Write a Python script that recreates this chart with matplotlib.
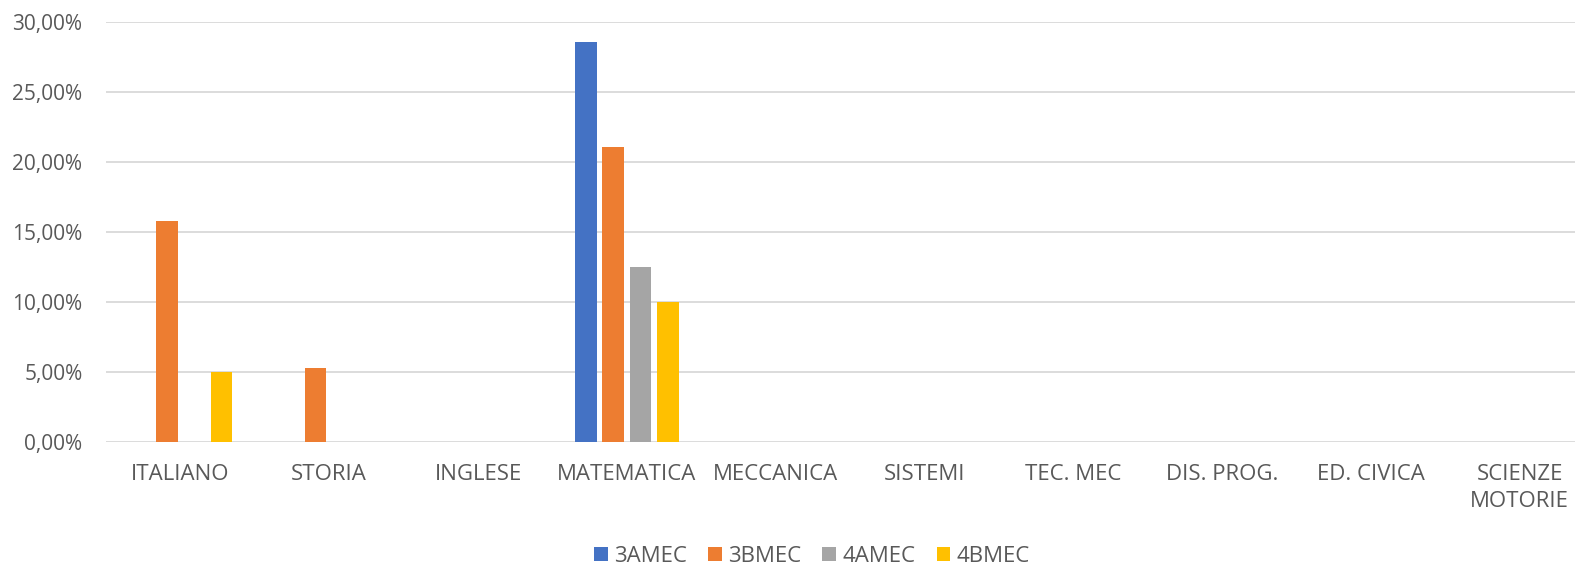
import matplotlib.pyplot as plt
import numpy as np
from matplotlib.ticker import FuncFormatter

materie = ["ITALIANO", "STORIA", "INGLESE", "MATEMATICA", "MECCANICA", "SISTEMI",
           "TEC. MEC", "DIS. PROG.", "ED. CIVICA", "SCIENZE\nMOTORIE"]
classi = ["3AMEC", "3BMEC", "4AMEC", "4BMEC"]
v_3amec = [0, 0, 0, 0.2857, 0, 0, 0, 0, 0, 0]
v_3bmec = [0.1579, 0.0526, 0, 0.2105, 0, 0, 0, 0, 0, 0]
v_4amec = [0, 0, 0, 0.125, 0, 0, 0, 0, 0, 0]
v_4bmec = [0.05, 0, 0, 0.10, 0, 0, 0, 0, 0, 0]
colori = ['#4472c4', '#ed7d31', '#a5a5a5', '#ffc000']

plt.rcParams['font.family'] = ['Open Sans', 'DejaVu Sans']
testo = '#595959'

fig = plt.figure(figsize=(15.75, 5.65), dpi=100)
# l'area del grafico sborda a destra come nell'originale (ritagliato)
ax = fig.add_axes([106/1575, 1-441.7/565, (1594-106)/1575, (441.7-22)/565])

x = np.arange(len(materie))
passo = 0.184
larg = 0.146
for i, (nome, vals) in enumerate(zip(classi, [v_3amec, v_3bmec, v_4amec, v_4bmec])):
    ax.bar(x + (i - 1.5) * passo, vals, larg, color=colori[i], label=nome, zorder=3)

ax.set_xlim(-0.5, len(materie) - 0.5)
ax.set_ylim(0, 0.30)
ax.set_yticks(np.arange(0, 0.301, 0.05))
ax.yaxis.set_major_formatter(FuncFormatter(lambda v, p: ('%.2f%%' % (v * 100)).replace('.', ',')))
ax.set_xticks(x)
ax.set_xticklabels(materie, linespacing=1.35)
ax.grid(axis='y', color='#d9d9d9', linewidth=1.3, zorder=0)
for s in ['top', 'right', 'left', 'bottom']:
    ax.spines[s].set_visible(False)
ax.tick_params(axis='both', length=0, labelcolor=testo)
ax.tick_params(axis='x', pad=16, labelsize=16)
ax.tick_params(axis='y', pad=17, labelsize=15)

ax.legend(loc='center', bbox_to_anchor=(812/1575, 1-556/565), bbox_transform=fig.transFigure,
          ncol=4, frameon=False, fontsize=16, labelcolor=testo, handlelength=0.6,
          handleheight=0.6, handletextpad=0.3, columnspacing=0.95)

fig.savefig('out.png', dpi=100)
